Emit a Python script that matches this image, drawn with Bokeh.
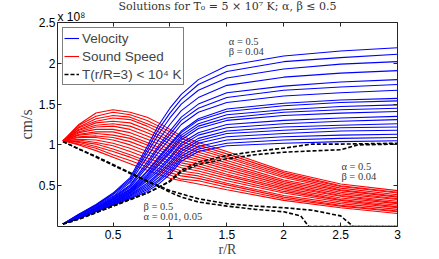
from bokeh.plotting import figure
from bokeh.models import (ColumnDataSource, FixedTicker, LinearAxis, Label, Range1d,
                          Legend, LegendItem, Title)
from bokeh.embed import file_html
from bokeh.resources import INLINE

# ---------------- data (speeds in units of 1e8 cm/s) ----------------
r_grid = [0.06, 0.2, 0.35, 0.5, 0.65, 0.8, 0.9, 1.0, 1.1, 1.25, 1.5, 2.0, 2.5, 3.0]

velocity = [
    [0.03, 0.15, 0.27, 0.41, 0.60, 0.98, 1.24, 1.45, 1.62, 1.80, 1.97, 2.09, 2.15, 2.19],
    [0.03, 0.15, 0.26, 0.40, 0.58, 0.94, 1.19, 1.39, 1.56, 1.74, 1.90, 2.02, 2.07, 2.11],
    [0.03, 0.14, 0.26, 0.39, 0.56, 0.90, 1.13, 1.33, 1.50, 1.67, 1.82, 1.93, 1.99, 2.02],
    [0.03, 0.14, 0.25, 0.37, 0.54, 0.85, 1.06, 1.25, 1.42, 1.58, 1.73, 1.83, 1.88, 1.91],
    [0.03, 0.13, 0.24, 0.36, 0.51, 0.79, 0.99, 1.17, 1.34, 1.50, 1.64, 1.72, 1.77, 1.80],
    [0.03, 0.13, 0.23, 0.35, 0.50, 0.76, 0.96, 1.13, 1.30, 1.45, 1.58, 1.67, 1.71, 1.74],
    [0.03, 0.13, 0.23, 0.34, 0.48, 0.73, 0.91, 1.08, 1.25, 1.40, 1.52, 1.60, 1.64, 1.67],
    [0.03, 0.12, 0.22, 0.33, 0.46, 0.68, 0.85, 1.01, 1.17, 1.32, 1.44, 1.51, 1.55, 1.57],
    [0.03, 0.12, 0.22, 0.33, 0.45, 0.67, 0.83, 0.99, 1.15, 1.30, 1.41, 1.48, 1.52, 1.54],
    [0.03, 0.12, 0.22, 0.32, 0.44, 0.64, 0.80, 0.95, 1.12, 1.26, 1.37, 1.43, 1.47, 1.49],
    [0.03, 0.12, 0.21, 0.31, 0.43, 0.62, 0.77, 0.92, 1.09, 1.23, 1.33, 1.40, 1.43, 1.45],
    [0.03, 0.12, 0.21, 0.31, 0.42, 0.60, 0.75, 0.90, 1.06, 1.20, 1.30, 1.36, 1.39, 1.41],
    [0.03, 0.11, 0.20, 0.30, 0.41, 0.58, 0.71, 0.85, 1.02, 1.15, 1.25, 1.30, 1.33, 1.35],
    [0.03, 0.11, 0.20, 0.29, 0.40, 0.56, 0.68, 0.83, 0.99, 1.12, 1.21, 1.26, 1.29, 1.31],
    [0.03, 0.11, 0.20, 0.29, 0.39, 0.53, 0.65, 0.79, 0.95, 1.08, 1.17, 1.22, 1.24, 1.26],
    [0.03, 0.11, 0.19, 0.28, 0.38, 0.51, 0.63, 0.76, 0.92, 1.05, 1.14, 1.18, 1.21, 1.22],
    [0.03, 0.11, 0.19, 0.28, 0.37, 0.49, 0.60, 0.73, 0.89, 1.02, 1.10, 1.14, 1.17, 1.18],
    [0.03, 0.10, 0.19, 0.27, 0.36, 0.47, 0.57, 0.70, 0.86, 0.98, 1.06, 1.10, 1.12, 1.13],
    [0.03, 0.10, 0.18, 0.27, 0.35, 0.45, 0.55, 0.67, 0.83, 0.95, 1.02, 1.06, 1.08, 1.09],
    [0.03, 0.10, 0.18, 0.26, 0.34, 0.43, 0.52, 0.64, 0.80, 0.92, 0.99, 1.02, 1.04, 1.05],
]

sound_speed = [
    [1.05, 1.25, 1.39, 1.43, 1.40, 1.34, 1.27, 1.19, 1.11, 1.03, 0.92, 0.68, 0.52, 0.44],
    [1.05, 1.24, 1.35, 1.40, 1.37, 1.30, 1.23, 1.16, 1.08, 1.00, 0.89, 0.66, 0.50, 0.42],
    [1.05, 1.22, 1.32, 1.36, 1.34, 1.26, 1.20, 1.12, 1.04, 0.97, 0.86, 0.64, 0.49, 0.41],
    [1.05, 1.21, 1.29, 1.33, 1.31, 1.23, 1.16, 1.08, 1.01, 0.94, 0.84, 0.62, 0.47, 0.39],
    [1.05, 1.19, 1.27, 1.29, 1.27, 1.19, 1.12, 1.05, 0.98, 0.91, 0.81, 0.60, 0.45, 0.37],
    [1.05, 1.18, 1.24, 1.26, 1.23, 1.15, 1.09, 1.01, 0.95, 0.88, 0.78, 0.57, 0.44, 0.36],
    [1.05, 1.16, 1.22, 1.23, 1.19, 1.11, 1.05, 0.98, 0.91, 0.85, 0.75, 0.55, 0.42, 0.34],
    [1.05, 1.15, 1.19, 1.19, 1.15, 1.07, 1.01, 0.94, 0.88, 0.82, 0.73, 0.53, 0.40, 0.33],
    [1.05, 1.13, 1.16, 1.16, 1.11, 1.03, 0.97, 0.91, 0.85, 0.80, 0.70, 0.51, 0.38, 0.31],
    [1.05, 1.12, 1.14, 1.12, 1.08, 1.00, 0.94, 0.87, 0.81, 0.77, 0.67, 0.49, 0.37, 0.29],
    [1.05, 1.10, 1.11, 1.09, 1.04, 0.96, 0.90, 0.84, 0.78, 0.74, 0.64, 0.47, 0.35, 0.28],
    [1.05, 1.09, 1.09, 1.06, 1.00, 0.92, 0.86, 0.80, 0.75, 0.71, 0.62, 0.45, 0.33, 0.26],
    [1.05, 1.07, 1.06, 1.02, 0.96, 0.88, 0.83, 0.77, 0.72, 0.68, 0.59, 0.43, 0.32, 0.24],
    [1.05, 1.06, 1.03, 0.99, 0.92, 0.84, 0.79, 0.73, 0.68, 0.65, 0.56, 0.41, 0.30, 0.23],
    [1.05, 1.04, 1.01, 0.95, 0.88, 0.80, 0.75, 0.70, 0.65, 0.62, 0.53, 0.38, 0.28, 0.21],
    [1.05, 1.03, 0.98, 0.92, 0.85, 0.77, 0.71, 0.66, 0.62, 0.59, 0.51, 0.36, 0.26, 0.19],
    [1.05, 1.01, 0.96, 0.88, 0.81, 0.73, 0.68, 0.63, 0.58, 0.56, 0.48, 0.34, 0.25, 0.18],
    [1.05, 1.00, 0.93, 0.85, 0.77, 0.69, 0.64, 0.59, 0.56, 0.52, 0.45, 0.32, 0.23, 0.16],
]

# dashed: solutions with T(r/R=3) < 1e4 K
r_vel_dash_a = [0.06, 0.2, 0.35, 0.5, 0.65, 0.8, 0.9, 1.0, 1.1, 1.25, 1.5, 1.75, 2.0, 2.25, 2.5, 3.0]
vel_dash_a = [0.03, 0.09, 0.17, 0.25, 0.33, 0.41, 0.48, 0.56, 0.69, 0.79, 0.87, 0.92, 0.96, 1.01, 1.01, 1.02]
r_vel_dash_b = [0.06, 0.2, 0.35, 0.5, 0.65, 0.8, 0.9, 1.0, 1.1, 1.25, 1.5, 1.75, 2.0, 2.3, 2.5, 2.65, 3.0]
vel_dash_b = [0.03, 0.09, 0.17, 0.25, 0.33, 0.41, 0.48, 0.55, 0.67, 0.76, 0.83, 0.88, 0.91, 0.93, 0.94, 1.00, 1.01]
r_snd_dash_a = [0.06, 0.2, 0.35, 0.5, 0.65, 0.8, 0.9, 1.0, 1.1, 1.25, 1.5, 1.75, 2.0, 2.25, 2.5, 2.61, 3.0]
snd_dash_a = [1.04, 0.95, 0.86, 0.76, 0.66, 0.56, 0.50, 0.44, 0.40, 0.34, 0.28, 0.25, 0.23, 0.20, 0.13, 0.0, 0.0]
r_snd_dash_b = [0.06, 0.2, 0.35, 0.5, 0.65, 0.8, 0.9, 1.0, 1.1, 1.25, 1.5, 1.75, 2.0, 2.15, 2.22, 3.0]
snd_dash_b = [1.04, 0.95, 0.85, 0.75, 0.65, 0.55, 0.49, 0.42, 0.36, 0.30, 0.25, 0.21, 0.18, 0.13, 0.0, 0.0]

x_ticks = [0.5, 1, 1.5, 2, 2.5, 3]
x_tick_labels = ["0.5", "1", "1.5", "2", "2.5", "3"]
y_ticks = [0.5, 1, 1.5, 2, 2.5]
y_tick_labels = ["0.5", "1", "1.5", "2", "2.5"]

# ---------------- figure ----------------
p = figure(width=439, height=259, output_backend="svg", toolbar_location=None,
           x_range=Range1d(0.012, 3), y_range=Range1d(0, 2.5),
           min_border_left=57, min_border_right=42, min_border_top=22, min_border_bottom=31)
p.grid.visible = False
p.outline_line_color = None
p.background_fill_color = "white"

AX = "#262626"

def style(ax, ticks, labels, show):
    ax.ticker = FixedTicker(ticks=ticks)
    ax.major_tick_in = 4
    ax.major_tick_out = 0
    ax.minor_tick_line_color = None
    ax.axis_line_color = AX
    ax.major_tick_line_color = AX
    if show:
        ax.major_label_overrides = dict(zip(ticks, labels))
        ax.major_label_text_font = "Liberation Sans"
        ax.major_label_text_font_size = "12px"
        ax.major_label_text_color = "black"
    else:
        ax.major_label_text_font_size = "1px"
        ax.major_label_text_color = None
        ax.major_label_standoff = 0

style(p.xaxis[0], x_ticks, x_tick_labels, True)
p.xaxis[0].major_label_standoff = 3
p.xaxis[0].axis_label = "r/R"
p.xaxis[0].axis_label_text_font = "Liberation Serif"
p.xaxis[0].axis_label_text_font_size = "14px"
p.xaxis[0].axis_label_text_font_style = "normal"
p.xaxis[0].axis_label_standoff = 0
style(p.yaxis[0], y_ticks, y_tick_labels, True)
p.yaxis[0].major_label_standoff = 2
p.yaxis[0].axis_label = "cm/s"
p.yaxis[0].axis_label_text_font = "Liberation Serif"
p.yaxis[0].axis_label_text_font_size = "16px"
p.yaxis[0].axis_label_text_font_style = "normal"
p.yaxis[0].axis_label_standoff = 1

top_ax = LinearAxis()
style(top_ax, x_ticks, x_tick_labels, False)
p.add_layout(top_ax, "above")
right_ax = LinearAxis()
style(right_ax, y_ticks, y_tick_labels, False)
p.add_layout(right_ax, "right")

# exponent of the y axis and the title, in the panel above the frame
p.add_layout(Title(text="x 10\u2078", align="left", text_font="Liberation Sans",
                   text_font_size="12px", text_font_style="normal", text_color="black",
                   standoff=-3), "above")
p.title.text = "Solutions for T\u2080 = 5 \u00d7 10\u2077 K; \u03b1, \u03b2 \u2264 0.5"
p.title.align = "left"
p.title.offset = 61
p.title.text_font = "DejaVu Serif"
p.title.text_font_size = "11px"
p.title.text_font_style = "normal"
p.title.text_color = "#333333"
p.title.standoff = -6

red_src = ColumnDataSource(dict(xs=[r_grid] * len(sound_speed), ys=sound_speed))
blue_src = ColumnDataSource(dict(xs=[r_grid] * len(velocity), ys=velocity))
red_r = p.multi_line("xs", "ys", source=red_src, line_color="#ff0000", line_width=1.1)
blue_r = p.multi_line("xs", "ys", source=blue_src, line_color="#0000ff", line_width=1.1)

dash_kw = dict(line_color="black", line_width=1.6, line_dash="4 2")
d1 = p.line(r_vel_dash_a, vel_dash_a, **dash_kw)
d2 = p.line(r_vel_dash_b, vel_dash_b, **dash_kw)
d3 = p.line(r_snd_dash_a, snd_dash_a, **dash_kw)
d4 = p.line(r_snd_dash_b, snd_dash_b, **dash_kw)

legend = Legend(items=[
    LegendItem(label="Velocity", renderers=[blue_r]),
    LegendItem(label="Sound Speed", renderers=[red_r]),
    LegendItem(label="T(r/R=3) < 10\u2074 K", renderers=[d1]),
], location="top_left")
legend.margin = 5
legend.padding = 1
legend.spacing = 0
legend.label_height = 18
legend.glyph_height = 18
legend.glyph_width = 15
legend.label_standoff = 3
legend.label_text_font = "Liberation Sans"
legend.label_text_font_size = "13.5px"
legend.border_line_color = "black"
legend.border_line_width = 1
legend.background_fill_alpha = 1
p.add_layout(legend)

# ---------------- annotations inside the frame ----------------
serif = "Liberation Serif"
notes = [
    (1.517, 2.27, "\u03b1 = 0.5"), (1.517, 2.148, "\u03b2 = 0.04"),
    (2.507, 0.74, "\u03b1 = 0.5"), (2.507, 0.607, "\u03b2 = 0.04"),
    (0.768, 0.243, "\u03b2 = 0.5"), (0.768, 0.121, "\u03b1 = 0.01, 0.05"),
]
for nx, ny, nt in notes:
    p.add_layout(Label(x=nx, y=ny, text=nt, text_align="left", text_baseline="middle",
                       text_font=serif, text_font_size="10.5px", text_color="#3a3a3a"))

open("out.html", "w").write(file_html(p, INLINE))
